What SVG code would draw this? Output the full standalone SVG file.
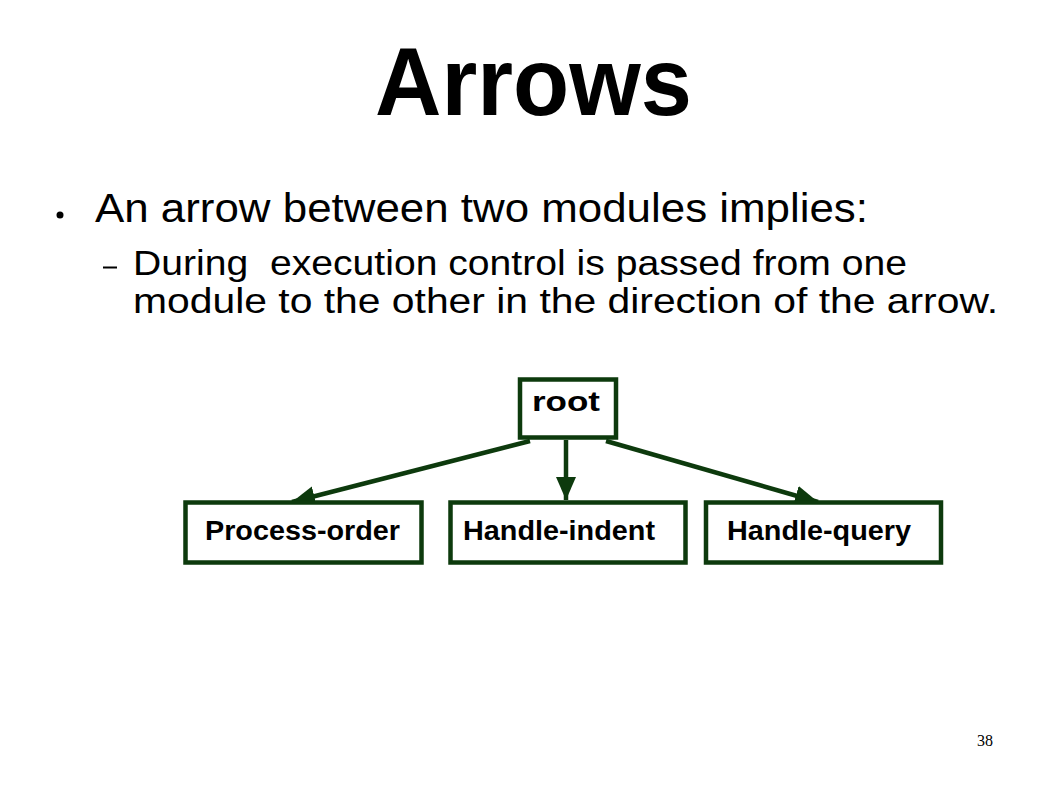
<svg xmlns="http://www.w3.org/2000/svg" width="1058" height="793" viewBox="0 0 1058 793">
<style>
.box{fill:#ffffff;stroke:#0d3a0d;stroke-width:4.5}
.lbl{font-family:"Liberation Sans",Arial,sans-serif;font-weight:bold;font-size:28px;fill:#000}
.body{font-family:"Liberation Sans",Arial,sans-serif;fill:#000;white-space:pre}
.conn{stroke:#0d3a0d;stroke-width:4.5;fill:none;marker-end:url(#ah)}
</style>
<defs>
<marker id="ah" markerUnits="userSpaceOnUse" markerWidth="24" markerHeight="22" refX="23" refY="10" orient="auto">
<path d="M0,0 L23,10 L0,20 Z" fill="#0d3a0d"/>
</marker>
</defs>
<rect x="0" y="0" width="1058" height="793" fill="#ffffff"/>
<text x="375" y="115" font-family="'Liberation Sans',Arial,sans-serif" font-weight="bold" font-size="96" textLength="317" lengthAdjust="spacingAndGlyphs">Arrows</text>
<circle cx="60" cy="215" r="3.5" fill="#000"/>
<text class="body" x="95" y="222" font-size="41" textLength="773" lengthAdjust="spacingAndGlyphs">An arrow between two modules implies:</text>
<rect x="103" y="266.5" width="14" height="2" fill="#000"/>
<text class="body" x="133" y="275" font-size="35" textLength="774" lengthAdjust="spacingAndGlyphs">During  execution control is passed from one</text>
<text class="body" x="133" y="313" font-size="35" textLength="865" lengthAdjust="spacingAndGlyphs">module to the other in the direction of the arrow.</text>
<g id="connectors">
<line class="conn" x1="530" y1="441" x2="292" y2="502"/>
<line class="conn" x1="566" y1="440" x2="566" y2="500"/>
<line class="conn" x1="606" y1="441" x2="818" y2="502"/>
</g>
<g id="root">
<rect class="box" x="520" y="379.5" width="96" height="58"/>
<text class="lbl" x="532" y="411" textLength="68" lengthAdjust="spacingAndGlyphs">root</text>
</g>
<g id="process-order">
<rect class="box" x="185.5" y="502.5" width="236" height="60"/>
<text class="lbl" x="205" y="540" textLength="195" lengthAdjust="spacingAndGlyphs">Process-order</text>
</g>
<g id="handle-indent">
<rect class="box" x="450.5" y="502.5" width="235" height="60"/>
<text class="lbl" x="463" y="540" textLength="192" lengthAdjust="spacingAndGlyphs">Handle-indent</text>
</g>
<g id="handle-query">
<rect class="box" x="706" y="502.5" width="235" height="60"/>
<text class="lbl" x="727" y="540" textLength="184" lengthAdjust="spacingAndGlyphs">Handle-query</text>
</g>
<text x="977" y="746" font-family="'Liberation Serif','Times New Roman',serif" font-size="16" fill="#000">38</text>
</svg>
